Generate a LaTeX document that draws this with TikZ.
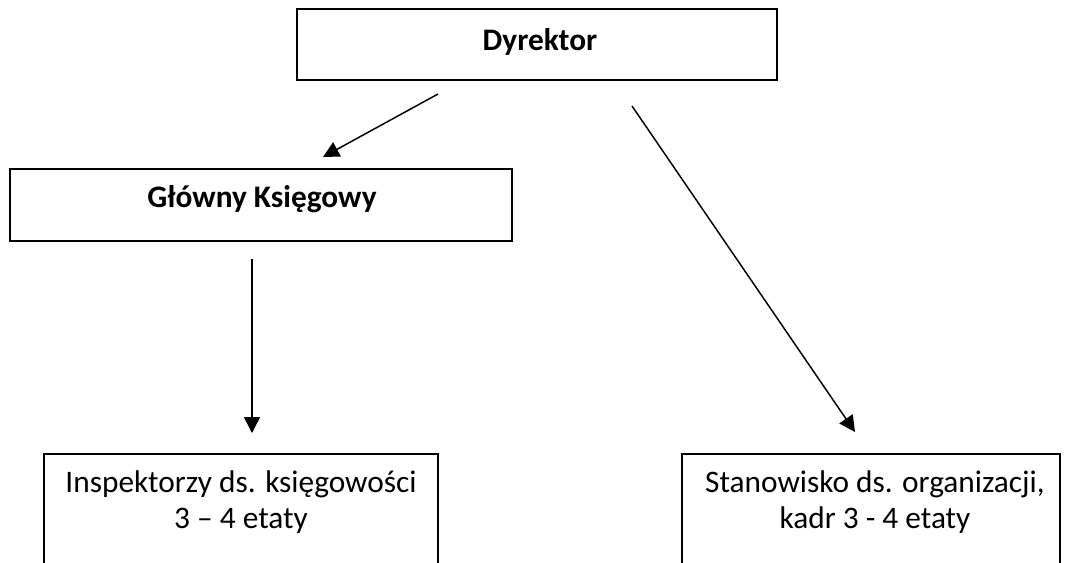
\documentclass[tikz,border=0pt]{standalone}
\usepackage{fontspec}
\setmainfont{Carlito}
\usetikzlibrary{arrows.meta}
\newcommand{\orgFont}{\fontsize{23.5}{27}\selectfont}
\tikzset{
  orgbox/.style={draw, line width=1.5pt, inner sep=0pt},
  orgtext/.style={inner sep=0pt, align=center, font=\orgFont},
  orghead/.style={orgtext, font=\orgFont\bfseries},
  orgarrow/.style={-{Triangle[length=12pt,width=12pt]}, line width=1.1pt}
}

\begin{document}
\begin{tikzpicture}[x=0.75pt, y=-0.75pt]
         \useasboundingbox (0,0) rectangle (1067,562);
         \clip (0,0) rectangle (1067,562);

         \node[orgbox, minimum width=360pt, minimum height=53.25pt] (dyr) at (537,44.5) {};
         \node[orghead, anchor=base] (dyrtxt) at (540,50) {Dyrektor};

         \node[orgbox, minimum width=376.5pt, minimum height=54pt] (gk) at (261,205) {};
         \node[orghead, anchor=base] (gktxt) at (262,207) {Główny Księgowy};

         \node[orgbox, anchor=north, minimum width=295.5pt, minimum height=112.5pt] (insp) at (241,453) {};
         \node[orgtext, anchor=north] (insptxt) at (241,470) {Inspektorzy ds. księgowości\\3 – 4 etaty};

         \node[orgbox, anchor=north, minimum width=283.5pt, minimum height=112.5pt] (stan) at (871,453) {};
         \node[orgtext, anchor=north] (stantxt) at (875,470) {Stanowisko ds. organizacji,\\kadr 3 - 4 etaty};

         \coordinate (dyrL) at (438,94);
         \coordinate (dyrR) at (632,106);
         \coordinate (gkTop) at (323,157);
         \coordinate (gkBot) at (252,259);
         \coordinate (inspTop) at (252,433);
         \coordinate (stanTop) at (855,432);

         \draw[orgarrow] (dyrL) -- (gkTop);
         \draw[orgarrow] (dyrR) -- (stanTop);
         \draw[orgarrow] (gkBot) -- (inspTop);
      \end{tikzpicture}
\end{document}
